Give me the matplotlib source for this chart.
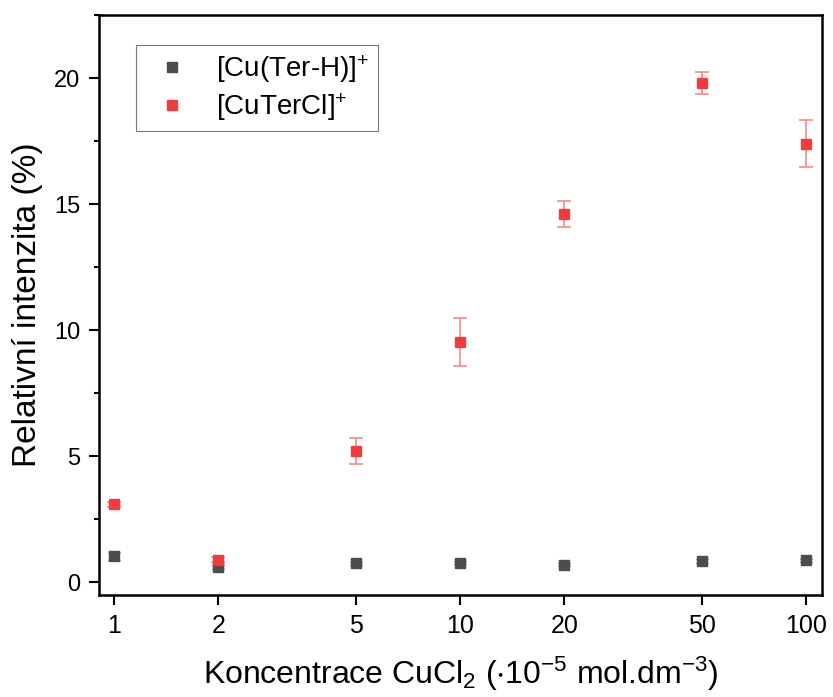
import matplotlib.pyplot as plt
from matplotlib.ticker import FixedLocator, NullLocator, MultipleLocator

plt.rcParams['font.family'] = ['Liberation Sans', 'DejaVu Sans']
plt.rcParams['mathtext.fontset'] = 'custom'
plt.rcParams['mathtext.rm'] = 'Liberation Sans'
plt.rcParams['mathtext.it'] = 'Liberation Sans'
plt.rcParams['mathtext.default'] = 'regular'

conc = [1, 2, 5, 10, 20, 50, 100]
cu_ter_h = [1.05, 0.6, 0.75, 0.78, 0.7, 0.85, 0.88]
cu_ter_h_err = [0.15, 0.08, 0.06, 0.06, 0.06, 0.07, 0.06]
cu_ter_cl = [3.1, 0.9, 5.2, 9.55, 14.6, 19.8, 17.4]
cu_ter_cl_err = [0.1, 0.1, 0.52, 0.95, 0.52, 0.45, 0.93]
tick_labels = ['1', '2', '5', '10', '20', '50', '100']

gray = '#4d4d4d'
red = '#f03c3c'

fig = plt.figure(figsize=(8.33, 6.97), dpi=100)
ax = fig.add_axes([99 / 833, 1 - 595 / 697, (822 - 99) / 833, (595 - 15) / 697])

ax.errorbar(conc, cu_ter_h, yerr=cu_ter_h_err, fmt='s', color=gray, ms=7.5,
            ecolor=gray, elinewidth=1, capsize=4, capthick=1,
            label='[Cu(Ter-H)]$^{+}$', zorder=3)
ax.errorbar(conc, cu_ter_cl, yerr=cu_ter_cl_err, fmt='s', color=red, ms=7.5,
            ecolor='#f58a8a', elinewidth=1.2, capsize=5, capthick=1.2,
            label='[CuTerCl]$^{+}$', zorder=4)

ax.set_xscale('log')
ax.set_xlim(0.905, 111)
ax.set_ylim(-0.5, 22.5)
ax.xaxis.set_major_locator(FixedLocator(conc))
ax.xaxis.set_minor_locator(NullLocator())
ax.set_xticklabels(tick_labels)
ax.yaxis.set_major_locator(MultipleLocator(5))
ax.yaxis.set_minor_locator(MultipleLocator(2.5))

ax.tick_params(which='major', direction='out', length=7.5, width=1.5,
               labelsize=17, pad=6)
ax.tick_params(axis='x', labelsize=18)
ax.tick_params(which='minor', direction='out', length=3.5, width=1.5)
for s in ax.spines.values():
    s.set_linewidth(1.8)

ax.set_xlabel('Koncentrace CuCl$_2$ ($\\cdot$10$^{-5}$ mol.dm$^{-3}$)', fontsize=23, labelpad=12)
ax.set_ylabel('Relativní intenzita (%)', fontsize=24, labelpad=8)

handles, labels = ax.get_legend_handles_labels()
handles = [h[0] for h in handles]
leg = ax.legend(handles, labels, loc='upper left', bbox_to_anchor=(0.051, 0.948),
                borderaxespad=0, fontsize=20, frameon=True, fancybox=False,
                edgecolor='#555555', handletextpad=0.6, borderpad=0.3,
                handlelength=2.0, labelspacing=0.22)
leg.get_frame().set_linewidth(0.8)

fig.savefig('out.png', dpi=100)
